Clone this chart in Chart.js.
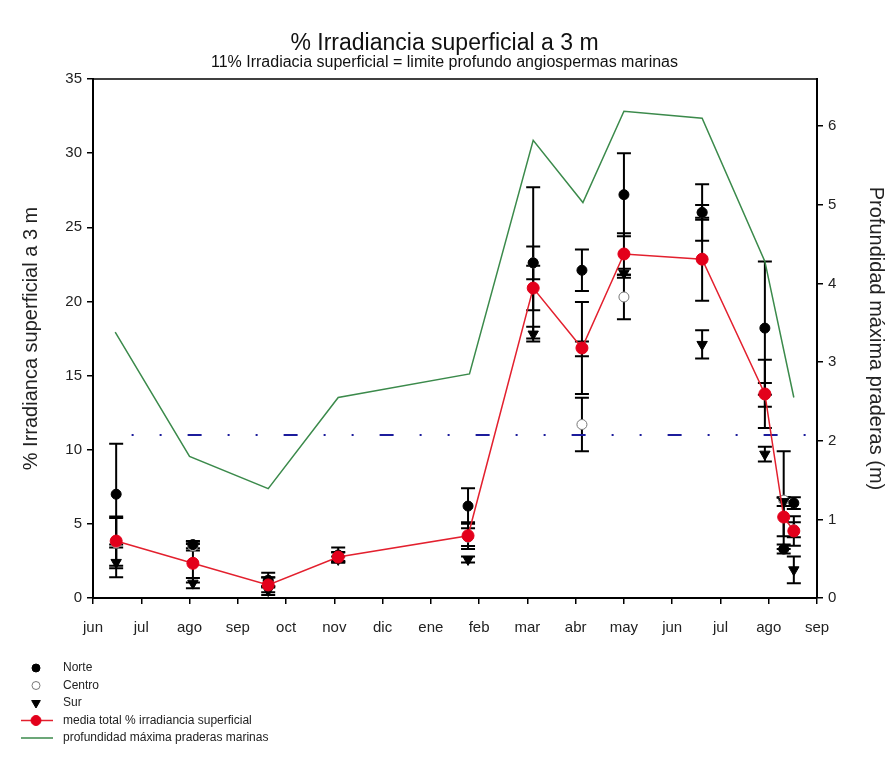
<!DOCTYPE html>
<html>
<head>
<meta charset="utf-8">
<title>% Irradiancia superficial a 3 m</title>
<script src="https://cdn.jsdelivr.net/npm/chart.js@4.4.1/dist/chart.umd.min.js"></script>
<style>
  body { margin: 0; background: #fff; }
  canvas { display: block; }
</style>
</head>
<body>
<canvas id="irradChart" width="889" height="767"></canvas>
<script>
// --- DATOS ---
const monthLabels = ['jun', 'jul', 'ago', 'sep', 'oct', 'nov', 'dic', 'ene', 'feb', 'mar', 'abr', 'may', 'jun', 'jul', 'ago', 'sep'];

// fecha de muestreo, en meses desde el 1 de junio
const sampleMonths = [0.48, 2.07, 3.63, 5.08, 7.77, 9.12, 10.13, 11.0, 12.62, 13.92, 14.31, 14.52];

const norte     = [7.0, 3.6, 1.2, 2.9, 6.2, 22.6, 22.1, 27.2, 26.0, 18.2, 3.3, 6.4];
const norteErr  = [3.4, 0.25, 0.5, 0.5, 1.2, 1.1, 1.4, 2.8, 1.9, 4.5, 0.3, 0.4];
const centro    = [3.7, 3.5, 1.1, 2.8, 4.1, 22.6, 11.7, 20.3, 26.0, 13.7, 6.6, 4.6];
const centroErr = [1.7, 0.3, 0.3, 0.3, 0.6, 5.1, 1.8, 1.5, 0.5, 0.8, 3.3, 0.5];
const sur       = [2.4, 1.0, 0.5, 2.6, 2.6, 17.8, 16.8, 21.9, 17.1, 9.7, 6.5, 1.9];
const surErr    = [1.0, 0.35, 0.3, 0.2, 0.2, 0.5, 0.5, 0.3, 0.95, 0.5, 0.3, 0.9];
const media     = [3.84, 2.34, 0.88, 2.76, 4.2, 20.9, 16.86, 23.2, 22.85, 13.76, 5.46, 4.52];
const mediaErr  = [1.66, 1.3, 0.5, 0.3, 0.9, 1.5, 3.1, 1.4, 2.8, 2.3, 1.3, 1.0];

// profundidad maxima de praderas (eje derecho, m)
const profMonths  = [0.46, 2.0, 3.63, 5.08, 7.8, 9.12, 10.15, 11.0, 12.62, 13.92, 14.52];
const profundidad = [3.38, 1.80, 1.39, 2.55, 2.85, 5.82, 5.03, 6.19, 6.10, 4.28, 2.55];

// 11% irradiancia superficial = limite profundo
const umbralMonths = [0.8, 14.95];
const umbral = 11;

const FONT = '"Liberation Sans", Arial, sans-serif';

const pts = (xs, ys) => xs.map((x, i) => ({ x: x, y: ys[i] }));

// --- BARRAS DE ERROR ---
const errorBars = {
    id: 'errorBars',
    beforeDatasetsDraw(chart) {
        const ctx = chart.ctx;
        const xScale = chart.scales.x;
        ctx.save();
        ctx.strokeStyle = '#000';
        ctx.lineWidth = 2;
        chart.data.datasets.forEach(ds => {
            if (!ds.errors) return;
            const yScale = chart.scales[ds.yAxisID || 'y'];
            ds.data.forEach((p, j) => {
                const e = ds.errors[j];
                const x = xScale.getPixelForValue(p.x);
                const top = yScale.getPixelForValue(p.y + e);
                const bot = yScale.getPixelForValue(Math.max(p.y - e, 0));
                ctx.beginPath();
                ctx.moveTo(x, top); ctx.lineTo(x, bot);
                ctx.moveTo(x - 7, top); ctx.lineTo(x + 7, top);
                ctx.moveTo(x - 7, bot); ctx.lineTo(x + 7, bot);
                ctx.stroke();
            });
        });
        ctx.restore();
    }
};

// --- MARCO SUPERIOR + LEYENDA ---
const frameAndLegend = {
    id: 'frameAndLegend',
    afterDraw(chart) {
        const ctx = chart.ctx;
        const a = chart.chartArea;
        ctx.save();
        ctx.strokeStyle = '#000';
        ctx.lineWidth = 1.5;
        ctx.beginPath();
        ctx.moveTo(a.left, a.top);
        ctx.lineTo(a.right, a.top);
        ctx.stroke();

        // leyenda
        const x0 = 36, tx = 63;
        let y = 668;
        ctx.font = '12px ' + FONT;
        ctx.textBaseline = 'middle';
        chart.data.datasets.filter(d => d.inLegend).sort((p, q) => p.legendPos - q.legendPos).forEach(ds => {
            if (ds.showLine !== false) {
                ctx.strokeStyle = ds.borderColor;
                ctx.lineWidth = 1.5;
                ctx.beginPath();
                ctx.moveTo(21, y); ctx.lineTo(53, y);
                ctx.stroke();
            }
            if (ds.pointRadius > 0) {
                ctx.fillStyle = ds.pointBackgroundColor;
                ctx.strokeStyle = ds.pointBorderColor;
                ctx.lineWidth = ds.pointBorderWidth || 1;
                Chart.helpers.drawPoint(ctx, {
                    pointStyle: ds.pointStyle,
                    radius: ds.pointRadius - 1,
                    rotation: ds.rotation || 0,
                    borderWidth: ds.pointBorderWidth || 1
                }, x0, y);
            }
            ctx.fillStyle = '#222';
            ctx.fillText(ds.label, tx, y);
            y += 17.5;
        });
        ctx.restore();
    }
};

// --- GRAFICO ---
const ctx = document.getElementById('irradChart').getContext('2d');

new Chart(ctx, {
    type: 'line',
    data: {
        datasets: [
            {
                label: 'media total % irradiancia superficial',
                data: pts(sampleMonths, media),
                errors: mediaErr,
                borderColor: '#e3202e',
                borderWidth: 1.5,
                pointStyle: 'circle',
                pointRadius: 6,
                pointBackgroundColor: '#e3001b',
                pointBorderColor: '#e3001b',
                pointBorderWidth: 1,
                tension: 0,
                order: 0,
                inLegend: true, legendPos: 3
            },
            {
                label: 'Norte',
                data: pts(sampleMonths, norte),
                errors: norteErr,
                showLine: false,
                pointStyle: 'circle',
                pointRadius: 5,
                pointBackgroundColor: '#000',
                pointBorderColor: '#000',
                order: 1,
                inLegend: true, legendPos: 0
            },
            {
                label: 'Sur',
                data: pts(sampleMonths, sur),
                errors: surErr,
                showLine: false,
                pointStyle: 'triangle',
                rotation: 180,
                pointRadius: 6,
                pointBackgroundColor: '#000',
                pointBorderColor: '#000',
                order: 2,
                inLegend: true, legendPos: 2
            },
            {
                label: 'Centro',
                data: pts(sampleMonths, centro),
                errors: centroErr,
                showLine: false,
                pointStyle: 'circle',
                pointRadius: 5,
                pointBackgroundColor: '#fff',
                pointBorderColor: '#777',
                pointBorderWidth: 1,
                order: 3,
                inLegend: true, legendPos: 1
            },
            {
                label: 'profundidad máxima praderas marinas',
                data: pts(profMonths, profundidad),
                yAxisID: 'y2',
                borderColor: '#3b8a4b',
                borderWidth: 1.5,
                pointRadius: 0,
                tension: 0,
                order: 4,
                inLegend: true, legendPos: 4
            },
            {
                label: '11% irradiancia superficial',
                data: umbralMonths.map(x => ({ x: x, y: umbral })),
                borderColor: '#1c1c9c',
                borderWidth: 2,
                borderDash: [2, 26, 2, 26, 14, 26],
                pointRadius: 0,
                order: 5
            }
        ]
    },
    options: {
        responsive: false,
        animation: false,
        layout: { padding: { left: 0, right: 0, top: 0, bottom: 129 } },
        plugins: {
            legend: { display: false },
            tooltip: { enabled: false },
            title: {
                display: true,
                text: '% Irradiancia superficial a 3 m',
                color: '#111',
                font: { family: FONT, size: 23, weight: 'normal', lineHeight: 1 },
                padding: { top: 32, bottom: 0 }
            },
            subtitle: {
                display: true,
                text: '11% Irradiacia superficial = limite profundo angiospermas marinas',
                color: '#111',
                font: { family: FONT, size: 16, lineHeight: 1 },
                padding: { top: 0, bottom: 8 }
            }
        },
        scales: {
            x: {
                type: 'linear',
                min: 0,
                max: 15,
                afterFit: s => { s.height = 40; },
                border: { display: true, color: '#000', width: 2 },
                grid: { drawOnChartArea: false, drawTicks: true, tickLength: 6, color: '#000', lineWidth: 1.5 },
                ticks: {
                    stepSize: 1,
                    autoSkip: false,
                    maxRotation: 0,
                    padding: 15,
                    color: '#222',
                    font: { family: FONT, size: 15 },
                    callback: v => monthLabels[v]
                }
            },
            y: {
                position: 'left',
                min: 0,
                max: 35,
                afterFit: s => { s.width = 93; },
                border: { display: true, color: '#000', width: 2 },
                grid: { drawOnChartArea: false, drawTicks: true, tickLength: 6, color: '#000', lineWidth: 1.5 },
                ticks: { stepSize: 5, padding: 5, color: '#222', font: { family: FONT, size: 15 } },
                title: {
                    display: true,
                    text: '% Irradianca superficial a 3 m',
                    color: '#222',
                    font: { family: FONT, size: 20 },
                    padding: { top: 19, bottom: 0 }
                }
            },
            y2: {
                position: 'right',
                min: 0,
                max: 6.6,
                afterFit: s => { s.width = 72; },
                afterBuildTicks: s => { s.ticks = s.ticks.filter(t => Number.isInteger(t.value)); },
                border: { display: true, color: '#000', width: 2 },
                grid: { drawOnChartArea: false, drawTicks: true, tickLength: 6, color: '#000', lineWidth: 1.5 },
                ticks: { stepSize: 1, padding: 5, color: '#222', font: { family: FONT, size: 15 } },
                title: {
                    display: true,
                    text: 'Profundidad máxima praderas (m)',
                    color: '#222',
                    font: { family: FONT, size: 20 },
                    padding: { top: 1, bottom: 0 }
                }
            }
        }
    },
    plugins: [errorBars, frameAndLegend]
});
</script>
</body>
</html>
